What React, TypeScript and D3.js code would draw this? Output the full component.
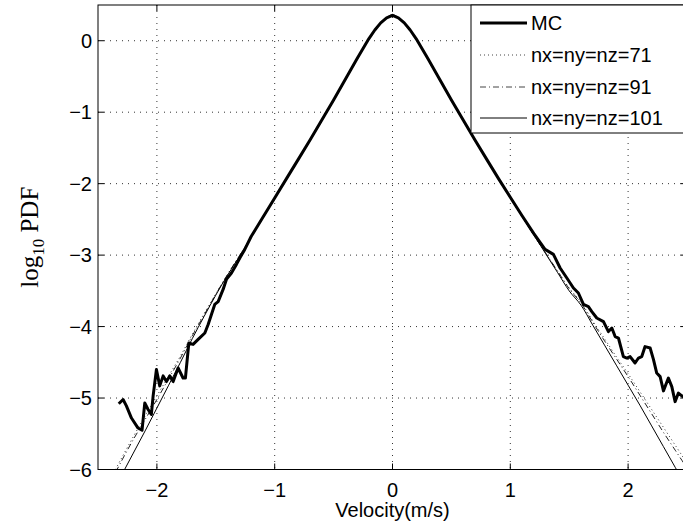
import React from "react";
import * as d3 from "d3";

// ---- data ----
const mcV = [
  -2.324, -2.287, -2.259, -2.216, -2.16, -2.126, -2.103, -2.075, -2.047, -2.032, -2.004, -1.976, -1.947, -1.919,
  -1.891, -1.862, -1.82, -1.778, -1.758, -1.729, -1.693, -1.65, -1.593, -1.565, -1.537, -1.509, -1.48, -1.438,
  -1.41, -1.367, -1.325, -1.296, -1.254, -1.2, -1.1, -1.0, -0.9, -0.8, -0.7, -0.6, -0.5, -0.4, -0.3, -0.25, -0.2,
  -0.15, -0.1, -0.05, 0, 0.05, 0.1, 0.15, 0.2, 0.25, 0.3, 0.4, 0.5, 0.6, 0.7, 0.8, 0.9, 1.0, 1.1, 1.2, 1.295,
  1.366, 1.423, 1.48, 1.536, 1.578, 1.621, 1.663, 1.692, 1.734, 1.791, 1.833, 1.862, 1.89, 1.918, 1.96, 1.989,
  2.017, 2.059, 2.088, 2.116, 2.144, 2.187, 2.215, 2.243, 2.272, 2.3, 2.342, 2.371, 2.399, 2.427, 2.456, 2.49,
];
const mcY = [
  -5.08, -5.02, -5.11, -5.28, -5.42, -5.45, -5.07, -5.16, -5.23, -4.97, -4.6, -4.83, -4.69, -4.77, -4.69, -4.77,
  -4.58, -4.72, -4.72, -4.23, -4.25, -4.18, -4.09, -3.97, -3.83, -3.69, -3.65, -3.48, -3.34, -3.25, -3.13, -3.04,
  -2.92, -2.74, -2.47, -2.2, -1.93, -1.66, -1.39, -1.11, -0.83, -0.54, -0.25, -0.11, 0.03, 0.15, 0.25, 0.32, 0.355,
  0.32, 0.25, 0.15, 0.03, -0.11, -0.25, -0.54, -0.83, -1.11, -1.39, -1.66, -1.93, -2.19, -2.45, -2.7, -2.92, -2.99,
  -3.18, -3.32, -3.46, -3.53, -3.69, -3.72, -3.79, -3.88, -3.93, -4.07, -4.02, -4.14, -4.16, -4.42, -4.44, -4.42,
  -4.51, -4.44, -4.42, -4.28, -4.3, -4.46, -4.65, -4.7, -4.9, -4.72, -4.84, -5.05, -4.93, -4.97, -5.0,
];

const simV = [
  -2.4, -2.3, -2.2, -2.1, -2.0, -1.9, -1.8, -1.7, -1.6, -1.5, -1.4, -1.3, -1.2, -1.1, -1.0, -0.9, -0.8, -0.7, -0.6,
  -0.5, -0.4, -0.3, -0.2, -0.1, 0, 0.1, 0.2, 0.3, 0.4, 0.5, 0.6, 0.7, 0.8, 0.9, 1.0, 1.1, 1.2, 1.3, 1.4, 1.5, 1.6,
  1.7, 1.8, 1.9, 2.0, 2.1, 2.2, 2.3, 2.4, 2.5,
];
const sim71 = [
  -6.15, -5.84, -5.54, -5.25, -4.97, -4.69, -4.41, -4.11, -3.82, -3.54, -3.27, -3.01, -2.75, -2.48, -2.21, -1.94,
  -1.67, -1.4, -1.12, -0.84, -0.55, -0.26, 0.03, 0.25, 0.36, 0.25, 0.03, -0.26, -0.55, -0.84, -1.12, -1.4, -1.67,
  -1.94, -2.2, -2.46, -2.72, -2.97, -3.22, -3.46, -3.66, -3.92, -4.17, -4.42, -4.66, -4.91, -5.16, -5.41, -5.66,
  -5.91,
];
const sim91 = [
  -6.2, -5.88, -5.58, -5.3, -5.02, -4.73, -4.44, -4.13, -3.84, -3.55, -3.27, -3.01, -2.75, -2.48, -2.21, -1.94,
  -1.67, -1.4, -1.12, -0.84, -0.55, -0.26, 0.03, 0.25, 0.36, 0.25, 0.03, -0.26, -0.55, -0.84, -1.12, -1.4, -1.67,
  -1.94, -2.2, -2.46, -2.72, -2.97, -3.22, -3.47, -3.67, -3.94, -4.2, -4.45, -4.7, -4.96, -5.22, -5.48, -5.73,
  -5.98,
];
const sim101 = [
  -6.4, -6.08, -5.77, -5.46, -5.14, -4.82, -4.5, -4.17, -3.86, -3.56, -3.28, -3.02, -2.75, -2.48, -2.21, -1.94,
  -1.67, -1.4, -1.12, -0.84, -0.55, -0.26, 0.03, 0.25, 0.36, 0.25, 0.03, -0.26, -0.55, -0.84, -1.12, -1.4, -1.67,
  -1.94, -2.2, -2.46, -2.72, -2.98, -3.24, -3.5, -3.7, -3.98, -4.26, -4.54, -4.82, -5.1, -5.39, -5.68, -5.97,
  -6.26,
];

const xTicks = [-2, -1, 0, 1, 2];
const yTicks = [0, -1, -2, -3, -4, -5, -6];
const legendLabels = ["MC", "nx=ny=nz=71", "nx=ny=nz=91", "nx=ny=nz=101"];

// ---- layout ----
const W = 683;
const H = 529;
const L = 98;
const R = 687;
const T = 5;
const B = 469.5;
const FONT = "'Liberation Sans', Arial, Helvetica, sans-serif";

export default function App() {
  const x = d3.scaleLinear().domain([-2.5, 2.5]).range([L, R]);
  const y = d3.scaleLinear().domain([-6, 0.5]).range([B, T]);
  const fmt = (v: number) => (v < 0 ? "\u2212" + Math.abs(v) : String(v));

  const mcPath = d3
    .line<number>()
    .x((_, i) => x(mcV[i]))
    .y((d) => y(d))
    .curve(d3.curveLinear)(mcY) as string;
  const simLine = (ys: number[]) =>
    d3
      .line<number>()
      .x((_, i) => x(simV[i]))
      .y((d) => y(d))
      .curve(d3.curveCatmullRom)(ys) as string;

  const legendRows = [
    { label: legendLabels[0], width: 3, dash: undefined, color: "#000" },
    { label: legendLabels[1], width: 1, dash: "1,3", color: "#444" },
    { label: legendLabels[2], width: 1, dash: "6,3,1,3", color: "#444" },
    { label: legendLabels[3], width: 1, dash: undefined, color: "#000" },
  ];
  const rowY = [23, 55, 87, 118];

  return (
    <svg
      width={W}
      height={H}
      style={{ position: "absolute", left: 0, top: 0, background: "#fff" }}
      fontFamily={FONT}
    >
      <defs>
        <clipPath id="plot">
          <rect x={L} y={T} width={R - L} height={B - T} />
        </clipPath>
      </defs>
      <rect x={0} y={0} width={W} height={H} fill="#fff" />
      {/* grid */}
      <g stroke="#333" strokeWidth={1} strokeDasharray="1,5">
        {xTicks.map((t) => (
          <line key={"gx" + t} x1={x(t)} x2={x(t)} y1={T} y2={B} />
        ))}
        {yTicks.map((t) => (
          <line key={"gy" + t} x1={L} x2={R} y1={y(t)} y2={y(t)} />
        ))}
      </g>
      {/* lines */}
      <g clipPath="url(#plot)" fill="none">
        <path d={simLine(sim71)} stroke="#333" strokeWidth={1} strokeDasharray="1,3" />
        <path d={simLine(sim91)} stroke="#222" strokeWidth={1} strokeDasharray="6,3,1,3" />
        <path d={simLine(sim101)} stroke="#000" strokeWidth={1} />
        <path d={mcPath} stroke="#000" strokeWidth={3} strokeLinejoin="round" />
      </g>
      {/* axes box */}
      <rect x={L} y={T} width={R - L} height={B - T} fill="none" stroke="#000" strokeWidth={1} />
      {/* ticks */}
      <g stroke="#000" strokeWidth={1}>
        {xTicks.map((t) => (
          <g key={"tx" + t}>
            <line x1={x(t)} x2={x(t)} y1={B} y2={B - 6} />
            <line x1={x(t)} x2={x(t)} y1={T} y2={T + 6} />
          </g>
        ))}
        {yTicks.map((t) => (
          <g key={"ty" + t}>
            <line x1={L} x2={L + 6} y1={y(t)} y2={y(t)} />
            <line x1={R} x2={R - 6} y1={y(t)} y2={y(t)} />
          </g>
        ))}
      </g>
      {/* tick labels */}
      <g fontSize={20} fill="#000">
        {xTicks.map((t) => (
          <text key={"lx" + t} x={x(t)} y={B + 27} textAnchor="middle">
            {fmt(t)}
          </text>
        ))}
        {yTicks.map((t) => (
          <text key={"ly" + t} x={L - 6} y={y(t) + 7} textAnchor="end">
            {fmt(t)}
          </text>
        ))}
      </g>
      {/* axis labels */}
      <text x={x(0)} y={517} fontSize={20} textAnchor="middle" fill="#000">
        Velocity(m/s)
      </text>
      <text
        transform={`translate(38,${(T + B) / 2}) rotate(-90)`}
        textAnchor="middle"
        fontFamily="'Liberation Serif', 'DejaVu Serif', serif"
        fontSize={25}
        fill="#000"
      >
        log
        <tspan fontSize={17} dy={6}>
          10
        </tspan>
        <tspan dy={-6}> PDF</tspan>
      </text>
      {/* legend */}
      <g>
        <rect x={471} y={T} width={240} height={133 - T} fill="#fff" stroke="#000" strokeWidth={1} />
        {legendRows.map((r, i) => (
          <g key={"lg" + i}>
            <line
              x1={480}
              x2={527}
              y1={rowY[i]}
              y2={rowY[i]}
              stroke={r.color}
              strokeWidth={r.width}
              strokeDasharray={r.dash}
            />
            <text x={531} y={rowY[i] + 7} fontSize={20} fill="#000">
              {r.label}
            </text>
          </g>
        ))}
      </g>
    </svg>
  );
}
